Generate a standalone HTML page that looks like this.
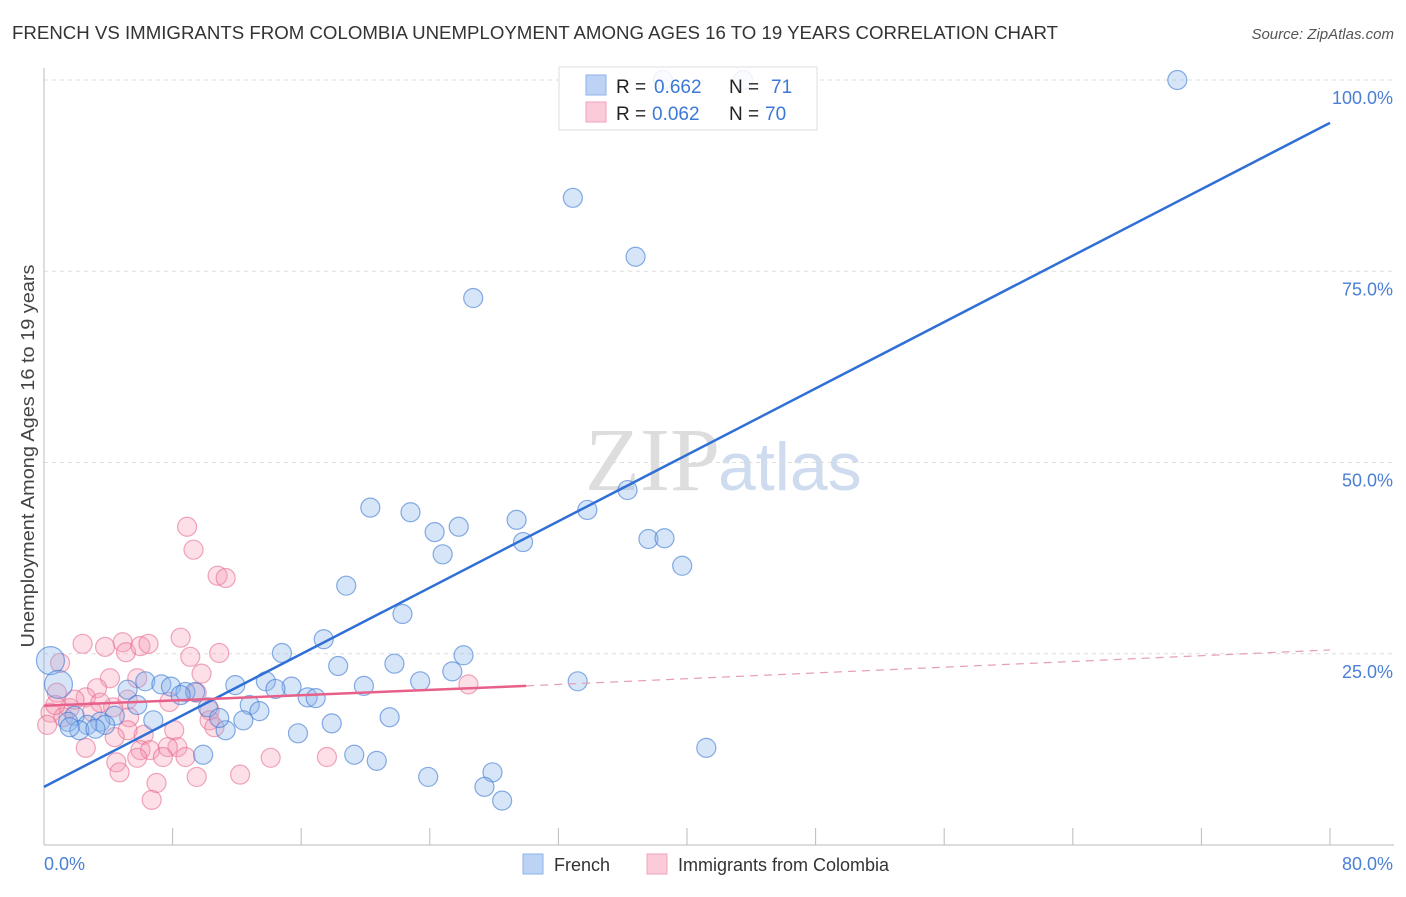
<!DOCTYPE html>
<html><head><meta charset="utf-8"><style>
body{margin:0;background:#fff;font-family:"Liberation Sans",sans-serif}
</style></head><body>
<svg width="1406" height="892" xmlns="http://www.w3.org/2000/svg" style="font-family:'Liberation Sans',sans-serif">
<text x="12" y="39" font-size="18" fill="#333" textLength="1046" lengthAdjust="spacingAndGlyphs">FRENCH VS IMMIGRANTS FROM COLOMBIA UNEMPLOYMENT AMONG AGES 16 TO 19 YEARS CORRELATION CHART</text>
<text x="1394" y="39" font-size="15" fill="#555" font-style="italic" text-anchor="end">Source: ZipAtlas.com</text>
<text x="720" y="490" font-size="90" fill="#ddd" text-anchor="end" font-family="Liberation Serif">ZIP</text>
<text x="718" y="490" font-size="68" fill="#cfdcef">atlas</text>
<g id="grid"></g>
<g id="axes"></g>
<g id="pts"></g>
<g id="trend"></g>
<text transform="translate(34,456) rotate(-90)" font-size="18" fill="#444" text-anchor="middle" textLength="383" lengthAdjust="spacingAndGlyphs">Unemployment Among Ages 16 to 19 years</text>
<text x="44" y="870" font-size="18" fill="#4a7fd4">0.0%</text>
<text x="1393" y="870" font-size="18" fill="#4a7fd4" text-anchor="end">80.0%</text>
<g>
<rect x="559" y="67" width="258" height="63" fill="rgba(255,255,255,0.85)" stroke="#ddd"/>
<rect x="586" y="75" width="20" height="20" fill="#bcd3f5" stroke="#8fb2e8"/>
<text x="616" y="93" font-size="19" fill="#222">R = </text><text x="654" y="93" font-size="19" fill="#3b78d8">0.662</text>
<text x="729" y="93" font-size="19" fill="#222">N = </text><text x="771" y="93" font-size="19" fill="#3b78d8">71</text>
<rect x="586" y="102" width="20" height="20" fill="#fbcbd9" stroke="#f0a3ba"/>
<text x="616" y="120" font-size="19" fill="#222">R = </text><text x="652" y="120" font-size="19" fill="#3b78d8">0.062</text>
<text x="729" y="120" font-size="19" fill="#222">N = </text><text x="765" y="120" font-size="19" fill="#3b78d8">70</text>
</g>
<g>
<rect x="523" y="854" width="20" height="20" fill="#bcd3f5" stroke="#8fb2e8"/>
<text x="554" y="871" font-size="18" fill="#333">French</text>
<rect x="647" y="854" width="20" height="20" fill="#fbcbd9" stroke="#f0a3ba"/>
<text x="678" y="871" font-size="18" fill="#333">Immigrants from Colombia</text>
</g>
</svg>
<script>
const blueX=[70.5,38.5,43.5,32.9,36.8,26.7,36.3,20.3,22.8,24.3,25.8,29.4,33.8,29.8,24.8,37.6,38.6,39.7,18.8,22.3,17.4,14.8,26.1,25.4,21.8,18.3,33.2,23.4,19.9,13.8,11.9,15.4,14.4,16.4,16.9,12.8,13.4,21.5,17.9,12.4,15.8,11.3,9.9,19.3,20.7,23.9,27.9,27.4,28.5,41.2,0.4,0.9,5.2,6.3,7.3,7.9,8.8,9.4,8.5,5.8,10.2,10.9,6.8,4.4,3.5,3.8,1.9,1.5,2.7,2.2,3.2,1.6];
const blueY=[100,100,100,84.6,76.9,71.5,46.4,44.1,43.5,40.9,41.6,42.5,43.8,39.6,38.0,40.0,40.1,36.5,33.9,30.2,26.9,25.1,24.8,22.7,23.7,23.4,21.4,21.4,20.8,21.4,20.9,20.7,20.4,19.3,19.2,18.3,17.5,16.7,15.9,16.3,14.6,15.0,11.8,11.8,11.0,8.9,9.5,7.6,5.8,12.7,24.1,21.0,20.3,21.4,21.0,20.7,20.0,20.0,19.6,18.3,18.0,16.6,16.3,16.9,16.1,15.7,16.9,16.1,15.7,15.0,15.2,15.4];
const pinkX=[8.9,9.3,10.8,11.3,2.4,3.8,4.9,5.1,6.0,6.5,8.5,9.1,10.9,1.0,9.8,4.1,5.8,3.3,9.5,0.8,2.6,7.8,5.2,10.3,1.6,0.4,1.2,4.3,3.5,5.3,10.3,10.6,5.2,4.4,6.2,8.1,8.3,2.6,6.0,6.6,7.7,8.8,7.4,5.8,4.5,4.7,9.5,12.2,7.0,6.7,14.1,17.6,26.4,0.2,0.7,1.9,3.0];
const pinkY=[41.6,38.6,35.2,34.9,26.3,25.9,26.5,25.2,26.0,26.3,27.1,24.6,25.1,23.8,22.4,21.8,21.8,20.5,19.9,19.9,19.3,18.7,19.0,17.6,17.9,17.3,16.7,18.0,18.6,16.7,16.3,15.4,15.0,14.1,14.4,15.0,12.8,12.7,12.4,12.4,12.8,11.5,11.5,11.4,10.8,9.5,8.9,9.2,8.1,5.9,11.4,11.5,21.0,15.7,18.3,19.0,17.4];
const bigBlue=[50,51];
const yTicks=[25,50,75,100];
const yTickLabels=["25.0%","50.0%","75.0%","100.0%"];
const xTicks=[0,8,16,24,32,40,48,56,64,72,80];
const blueTrend=[[0,7.6],[80,94.4]];
const pinkTrendSolid=[[0,18.2],[30,20.8]];
const pinkTrendDash=[[30,20.8],[80,25.5]];
const X=v=>44+v*16.075, Y=v=>845-v*7.65;
const NS="http://www.w3.org/2000/svg";
function mk(p,t,a){const e=document.createElementNS(NS,t);for(const k in a)e.setAttribute(k,a[k]);p.appendChild(e);return e;}
const grid=document.getElementById('grid'),axes=document.getElementById('axes'),pts=document.getElementById('pts'),tr=document.getElementById('trend');
yTicks.forEach((t,i)=>{
 const l=mk(grid,'line',{x1:44,x2:1394,y1:Y(t),y2:Y(t),stroke:'#ddd','stroke-dasharray':'4,4'});
 
 
 const tx=mk(grid,'text',{x:1393,y:Y(t)+24,'font-size':18,fill:'#4a7fd4','text-anchor':'end'});
 tx.textContent=yTickLabels[i];
 
 
});
const ax=mk(axes,'line',{x1:44,x2:1394,y1:845,y2:845,stroke:'#bbb'});


const ay=mk(axes,'line',{x1:44,x2:44,y1:68,y2:845,stroke:'#bbb'});


xTicks.forEach(t=>{
 const l=mk(axes,'line',{x1:X(t),x2:X(t),y1:828,y2:845,stroke:'#bbb'});
 
 
});
pinkX.forEach((x,i)=>{
 const c=mk(pts,'circle',{cx:X(x),cy:Y(pinkY[i]),r:9.5,fill:'rgba(244,150,177,0.3)',stroke:'rgba(230,110,145,0.6)','stroke-width':1.2});
 
 
});
blueX.forEach((x,i)=>{
 const c=mk(pts,'circle',{cx:X(x),cy:Y(blueY[i]),r:bigBlue.includes(i)?14:9.5,fill:'rgba(140,180,235,0.35)',stroke:'rgba(60,120,210,0.6)','stroke-width':1.2});
 
 
});
const bl=mk(tr,'line',{x1:X(blueTrend[0][0]),y1:Y(blueTrend[0][1]),x2:X(blueTrend[1][0]),y2:Y(blueTrend[1][1]),stroke:'#2f6fd6','stroke-width':2.5});


const ps=mk(tr,'line',{x1:X(pinkTrendSolid[0][0]),y1:Y(pinkTrendSolid[0][1]),x2:X(pinkTrendSolid[1][0]),y2:Y(pinkTrendSolid[1][1]),stroke:'#e8608a','stroke-width':2.5});


const pd=mk(tr,'line',{x1:X(pinkTrendDash[0][0]),y1:Y(pinkTrendDash[0][1]),x2:X(pinkTrendDash[1][0]),y2:Y(pinkTrendDash[1][1]),stroke:'#e8a0b5','stroke-width':1.2,'stroke-dasharray':'8,6'});


</script>
</body></html>
